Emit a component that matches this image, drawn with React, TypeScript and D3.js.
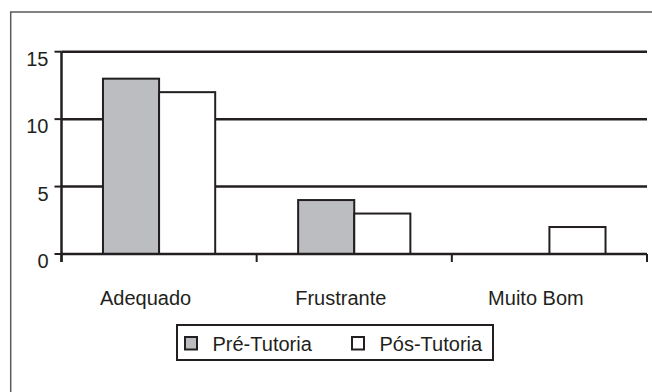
import React from "react";
import * as d3 from "d3";

const categories = ["Adequado", "Frustrante", "Muito Bom"];
const seriesNames = ["Pré-Tutoria", "Pós-Tutoria"];
const preTutoria = [13, 4, 0];
const posTutoria = [12, 3, 2];
const yTicks = [0, 5, 10, 15];
const seriesFill = ["#bcbdc0", "#ffffff"];

const W = 652;
const H = 392;
const plot = { left: 61.5, right: 647, top: 51.7, bottom: 254 };
const FONT = "'Liberation Sans', Arial, Helvetica, sans-serif";
const INK = "#231f20";
const FS = 20;

export default function App() {
  const x = d3.scaleBand<string>().domain(categories).range([plot.left, plot.right]).paddingInner(0).paddingOuter(0);
  const bw = x.bandwidth();
  const groupW = bw * 0.575;
  const xs = d3
    .scaleBand<string>()
    .domain(seriesNames)
    .range([(bw - groupW) / 2, (bw + groupW) / 2])
    .padding(0);
  const y = d3.scaleLinear().domain([0, 15]).range([plot.bottom, plot.top]);

  const values = [preTutoria, posTutoria];
  const boundaries = [plot.left, ...categories.map((c) => (x(c) as number) + bw)];

  return (
    <svg
      width={W}
      height={H}
      style={{ position: "absolute", left: 0, top: 0, background: "#fff" }}
      fontFamily={FONT}
    >
      {/* outer frame, open on the right and bottom */}
      <path d={`M10.7,${H} V12 H${W}`} fill="none" stroke="#5a5a5a" strokeWidth={1.5} />

      {/* gridlines */}
      {yTicks
        .filter((t) => t > 0)
        .map((t) => (
          <line key={`g${t}`} x1={plot.left} x2={plot.right} y1={y(t)} y2={y(t)} stroke={INK} strokeWidth={2.5} />
        ))}

      {/* bars */}
      {seriesNames.map((s, si) =>
        categories.map((c, ci) => {
          const v = values[si][ci];
          if (v <= 0) return null;
          const bx = (x(c) as number) + (xs(s) as number);
          return (
            <rect
              key={`${s}-${c}`}
              x={bx}
              y={y(v)}
              width={xs.bandwidth()}
              height={y(0) - y(v)}
              fill={seriesFill[si]}
              stroke={INK}
              strokeWidth={2}
            />
          );
        })
      )}

      {/* x axis */}
      <line x1={plot.left} x2={plot.right} y1={y(0)} y2={y(0)} stroke={INK} strokeWidth={2.5} />
      {boundaries.map((bx, i) => (
        <line key={`xt${i}`} x1={bx} x2={bx} y1={y(0)} y2={y(0) + 8} stroke={INK} strokeWidth={2} />
      ))}

      {/* y axis */}
      <line x1={plot.left} x2={plot.left} y1={plot.top} y2={y(0) + 8} stroke={INK} strokeWidth={2.5} />
      {yTicks.map((t) => (
        <g key={`yt${t}`}>
          <line x1={plot.left - 7} x2={plot.left} y1={y(t)} y2={y(t)} stroke={INK} strokeWidth={2} />
          <text x={48.5} y={y(t) + 14} textAnchor="end" fontSize={FS} fill={INK}>
            {t}
          </text>
        </g>
      ))}

      {/* category labels, set slightly left of the band centre */}
      {categories.map((c) => (
        <text key={c} x={(x(c) as number) + bw / 2 - 13.5} y={305} textAnchor="middle" fontSize={FS} fill={INK}>
          {c}
        </text>
      ))}

      {/* legend */}
      <g>
        <rect x={177} y={325} width={316} height={35} fill="#fff" stroke={INK} strokeWidth={2} />
        {seriesNames.map((s, i) => {
          const lx = [185, 352][i];
          return (
            <g key={s}>
              <rect x={lx} y={337} width={12} height={12.5} fill={seriesFill[i]} stroke={INK} strokeWidth={2} />
              <text x={lx + 27.5} y={350.5} fontSize={FS} fill={INK}>
                {s}
              </text>
            </g>
          );
        })}
      </g>
    </svg>
  );
}
